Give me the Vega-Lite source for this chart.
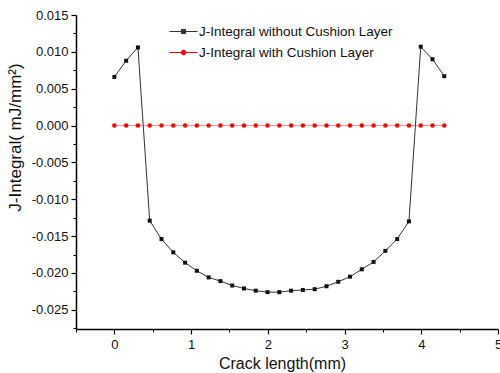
{
  "$schema": "https://vega.github.io/schema/vega-lite/v6.json",
  "width": 422,
  "height": 314,
  "autosize": {"type": "none"},
  "padding": {"left": 76, "top": 15, "right": 2, "bottom": 44},
  "background": "white",
  "config": {
    "view": {"stroke": null},
    "font": "Liberation Sans",
    "axis": {"grid": false, "domainColor": "#000", "tickColor": "#000", "labelColor": "#111", "titleColor": "#111", "labelFont": "Liberation Sans", "titleFont": "Liberation Sans", "titleFontWeight": "normal"}
  },
  "data": {"values": [
    {"x": 0, "y": 0.0066, "s": "J-Integral without Cushion Layer"},
    {"x": 0.1536, "y": 0.0088, "s": "J-Integral without Cushion Layer"},
    {"x": 0.3071, "y": 0.0106, "s": "J-Integral without Cushion Layer"},
    {"x": 0.4607, "y": -0.0129, "s": "J-Integral without Cushion Layer"},
    {"x": 0.6143, "y": -0.0154, "s": "J-Integral without Cushion Layer"},
    {"x": 0.7679, "y": -0.0172, "s": "J-Integral without Cushion Layer"},
    {"x": 0.9214, "y": -0.0186, "s": "J-Integral without Cushion Layer"},
    {"x": 1.075, "y": -0.0197, "s": "J-Integral without Cushion Layer"},
    {"x": 1.2286, "y": -0.0206, "s": "J-Integral without Cushion Layer"},
    {"x": 1.3821, "y": -0.0211, "s": "J-Integral without Cushion Layer"},
    {"x": 1.5357, "y": -0.0217, "s": "J-Integral without Cushion Layer"},
    {"x": 1.6893, "y": -0.0221, "s": "J-Integral without Cushion Layer"},
    {"x": 1.8429, "y": -0.0224, "s": "J-Integral without Cushion Layer"},
    {"x": 1.9964, "y": -0.0226, "s": "J-Integral without Cushion Layer"},
    {"x": 2.15, "y": -0.0226, "s": "J-Integral without Cushion Layer"},
    {"x": 2.3036, "y": -0.0224, "s": "J-Integral without Cushion Layer"},
    {"x": 2.4571, "y": -0.0223, "s": "J-Integral without Cushion Layer"},
    {"x": 2.6107, "y": -0.0222, "s": "J-Integral without Cushion Layer"},
    {"x": 2.7643, "y": -0.0218, "s": "J-Integral without Cushion Layer"},
    {"x": 2.9179, "y": -0.0212, "s": "J-Integral without Cushion Layer"},
    {"x": 3.0714, "y": -0.0205, "s": "J-Integral without Cushion Layer"},
    {"x": 3.225, "y": -0.0195, "s": "J-Integral without Cushion Layer"},
    {"x": 3.3786, "y": -0.0185, "s": "J-Integral without Cushion Layer"},
    {"x": 3.5321, "y": -0.017, "s": "J-Integral without Cushion Layer"},
    {"x": 3.6857, "y": -0.0154, "s": "J-Integral without Cushion Layer"},
    {"x": 3.8393, "y": -0.013, "s": "J-Integral without Cushion Layer"},
    {"x": 3.9929, "y": 0.0107, "s": "J-Integral without Cushion Layer"},
    {"x": 4.1464, "y": 0.009, "s": "J-Integral without Cushion Layer"},
    {"x": 4.3, "y": 0.0067, "s": "J-Integral without Cushion Layer"},
    {"x": 0, "y": 0, "s": "J-Integral with Cushion Layer"},
    {"x": 0.1536, "y": 0, "s": "J-Integral with Cushion Layer"},
    {"x": 0.3071, "y": 0, "s": "J-Integral with Cushion Layer"},
    {"x": 0.4607, "y": 0, "s": "J-Integral with Cushion Layer"},
    {"x": 0.6143, "y": 0, "s": "J-Integral with Cushion Layer"},
    {"x": 0.7679, "y": 0, "s": "J-Integral with Cushion Layer"},
    {"x": 0.9214, "y": 0, "s": "J-Integral with Cushion Layer"},
    {"x": 1.075, "y": 0, "s": "J-Integral with Cushion Layer"},
    {"x": 1.2286, "y": 0, "s": "J-Integral with Cushion Layer"},
    {"x": 1.3821, "y": 0, "s": "J-Integral with Cushion Layer"},
    {"x": 1.5357, "y": 0, "s": "J-Integral with Cushion Layer"},
    {"x": 1.6893, "y": 0, "s": "J-Integral with Cushion Layer"},
    {"x": 1.8429, "y": 0, "s": "J-Integral with Cushion Layer"},
    {"x": 1.9964, "y": 0, "s": "J-Integral with Cushion Layer"},
    {"x": 2.15, "y": 0, "s": "J-Integral with Cushion Layer"},
    {"x": 2.3036, "y": 0, "s": "J-Integral with Cushion Layer"},
    {"x": 2.4571, "y": 0, "s": "J-Integral with Cushion Layer"},
    {"x": 2.6107, "y": 0, "s": "J-Integral with Cushion Layer"},
    {"x": 2.7643, "y": 0, "s": "J-Integral with Cushion Layer"},
    {"x": 2.9179, "y": 0, "s": "J-Integral with Cushion Layer"},
    {"x": 3.0714, "y": 0, "s": "J-Integral with Cushion Layer"},
    {"x": 3.225, "y": 0, "s": "J-Integral with Cushion Layer"},
    {"x": 3.3786, "y": 0, "s": "J-Integral with Cushion Layer"},
    {"x": 3.5321, "y": 0, "s": "J-Integral with Cushion Layer"},
    {"x": 3.6857, "y": 0, "s": "J-Integral with Cushion Layer"},
    {"x": 3.8393, "y": 0, "s": "J-Integral with Cushion Layer"},
    {"x": 3.9929, "y": 0, "s": "J-Integral with Cushion Layer"},
    {"x": 4.1464, "y": 0, "s": "J-Integral with Cushion Layer"},
    {"x": 4.3, "y": 0, "s": "J-Integral with Cushion Layer"}
  ]},
  "resolve": {"axis": {"x": "independent", "y": "independent"}},
  "layer": [
    {
      "mark": {"type": "line", "strokeWidth": 1},
      "encoding": {
        "x": {"field": "x", "type": "quantitative", "scale": {"domain": [-0.5, 5], "nice": false, "zero": false},
          "axis": {"orient": "bottom", "values": [0, 1, 2, 3, 4, 5], "title": "Crack length(mm)", "titleFontSize": 16, "labelFontSize": 13, "tickSize": 5, "domainWidth": 1.5, "tickWidth": 1.2, "labelPadding": 4, "titleX": 206, "titleY": 34, "titleBaseline": "middle", "titleAlign": "center", "labelFlush": false}},
        "y": {"field": "y", "type": "quantitative", "scale": {"domain": [-0.0276, 0.015], "nice": false, "zero": false},
          "axis": {"orient": "left", "values": [0.015, 0.01, 0.005, 0, -0.005, -0.01, -0.015, -0.02, -0.025], "labelExpr": "replace(format(datum.value, '.3f'), '−', '-')", "title": "J-Integral( mJ/mm²)", "titleFontSize": 17, "labelFontSize": 13, "tickSize": 5, "domainWidth": 1.5, "tickWidth": 1.2, "labelPadding": 3, "titleX": -61, "titleY": 122, "titleAngle": -90, "titleAlign": "center", "titleBaseline": "middle", "labelFlush": false}},
        "color": {"field": "s", "type": "nominal", "scale": {"domain": ["J-Integral without Cushion Layer", "J-Integral with Cushion Layer"], "range": ["#333333", "#ff0000"]},
          "legend": {"title": null, "orient": "none", "legendX": 93, "legendY": 2, "padding": 0, "labelFontSize": 13.5, "labelLimit": 400, "labelFont": "Liberation Sans", "labelColor": "#111", "symbolSize": 784, "symbolStrokeWidth": 1, "labelOffset": 1, "rowPadding": -12,
            "encode": {"symbols": {"update": {
              "shape": {"signal": "datum.value === 'J-Integral with Cushion Layer' ? 'M-1,0H1M0.17,0A0.17,0.17,0,1,1,-0.17,0A0.17,0.17,0,1,1,0.17,0Z' : 'M-1,0H1M-0.15,-0.15H0.15V0.15H-0.15Z'"},
              "fill": {"scale": "color", "field": "value"},
              "size": {"value": 784},
              "strokeWidth": {"value": 1}
            }}}}},
        "strokeOpacity": {"field": "s", "type": "nominal", "scale": {"domain": ["J-Integral without Cushion Layer", "J-Integral with Cushion Layer"], "range": [1, 0.45]}, "legend": null}
      }
    },
    {
      "transform": [{"filter": "datum.s === 'J-Integral without Cushion Layer'"}],
      "mark": {"type": "point", "filled": true, "opacity": 1, "shape": "square", "size": 16, "color": "#111111"},
      "encoding": {
        "x": {"field": "x", "type": "quantitative", "scale": {"domain": [-0.5, 5], "nice": false, "zero": false},
          "axis": {"orient": "bottom", "values": [-0.5, 0.5, 1.5, 2.5, 3.5, 4.5], "labels": false, "domain": false, "title": null, "tickSize": 3, "tickWidth": 1}},
        "y": {"field": "y", "type": "quantitative", "scale": {"domain": [-0.0276, 0.015], "nice": false, "zero": false},
          "axis": {"orient": "left", "values": [0.0125, 0.0075, 0.0025, -0.0025, -0.0075, -0.0125, -0.0175, -0.0225, -0.0275], "labels": false, "domain": false, "title": null, "tickSize": 3, "tickWidth": 1}}
      }
    },
    {
      "transform": [{"filter": "datum.s === 'J-Integral with Cushion Layer'"}],
      "mark": {"type": "point", "filled": true, "opacity": 1, "shape": "circle", "size": 20, "color": "#ff0000"},
      "encoding": {
        "x": {"field": "x", "type": "quantitative", "axis": null},
        "y": {"field": "y", "type": "quantitative", "axis": null}
      }
    }
  ]
}
